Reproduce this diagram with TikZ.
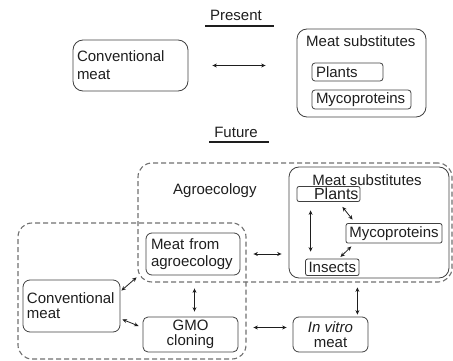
\documentclass[tikz,border=0pt]{standalone}
\usepackage{fontspec}
\setmainfont{Liberation Sans}
\usetikzlibrary{arrows.meta,calc}
\definecolor{txt}{HTML}{1E1E1E}
\definecolor{edge}{HTML}{404040}
\definecolor{dashc}{HTML}{707070}
\begin{document}
\begin{tikzpicture}[x=1pt,y=-1pt,
  font=\fontsize{15}{17}\selectfont, text=txt,
  box/.style={draw=edge, line width=0.8pt, rounded corners=3pt, inner sep=0pt},
  bigbox/.style={box, rounded corners=10pt},
  dbox/.style={draw=dashc, line width=1.1pt, dash pattern=on 5pt off 3pt, rounded corners=14pt, inner sep=0pt},
  link/.style={draw=txt, line width=0.8pt, {Stealth[length=4.5pt,width=4pt]}-{Stealth[length=4.5pt,width=4pt]}},
  head/.style={inner sep=0pt, anchor=base},
  lbl/.style={inner sep=0pt, anchor=base west}]
\useasboundingbox (0,0) rectangle (453,361);

% ---------- Present ----------
\node[head] (present) at (236,20.7) {Present};
\draw[line width=1.5pt, txt] ($(present.base)+(-31,5.5)$) -- ($(present.base)+(38,5.5)$);

\node[bigbox, minimum width=115pt, minimum height=51pt, text width=107pt, inner xsep=4pt,
      align=left, font=\fontsize{15}{18}\selectfont] (convP) at (130.5,65.5) {Conventional\\meat};

\node[bigbox, minimum width=129pt, minimum height=88pt] (subsP) at (361.5,73) {};
\node[lbl] (subsPt) at (306,46.7) {Meat substitutes};
\node[box, minimum width=71pt, minimum height=18pt, text width=63pt, inner xsep=4pt, align=left] (plantsP) at (347.5,72) {Plants};
\node[box, minimum width=99pt, minimum height=19pt, text width=91pt, inner xsep=4pt, align=left] (mycoP) at (361.5,99.5) {Mycoproteins};

\draw[link] ($(convP.east)+(24,0)$) -- ($(convP.east -| subsP.west)+(-31,0)$);

% ---------- Future ----------
\node[head] (future) at (236,137.3) {Future};
\draw[line width=1.5pt, txt] ($(future.base)+(-27,4.7)$) -- ($(future.base)+(33,4.7)$);

\node[dbox, minimum width=314pt, minimum height=119pt] (agroZone) at (295,222.5) {};
\node[dbox, minimum width=228pt, minimum height=136pt] (lowZone) at (132,291) {};
\node[lbl] (agroLabel) at (173,194) {Agroecology};

\node[box, rounded corners=6pt, minimum width=94pt, minimum height=42pt, text width=84pt, inner xsep=5pt,
      align=left, font=\fontsize{15}{17.7}\selectfont] (agro) at (193,254) {Meat from\\agroecology};
\node[box, rounded corners=7pt, minimum width=97pt, minimum height=52pt, text width=89pt, inner xsep=4pt,
      align=left, font=\fontsize{15}{15}\selectfont] (conv) at (71.5,306) {Conventional\\meat};
\node[box, rounded corners=5pt, minimum width=95pt, minimum height=35pt, align=center,
      font=\fontsize{15}{15}\selectfont] (gmo) at (190.5,334.5) {GMO\\cloning};

\node[bigbox, minimum width=160pt, minimum height=111pt] (subs) at (369,222.5) {};
\node[head] (subsT) at (367,185) {Meat substitutes};
\node[box, rounded corners=2pt, minimum width=63pt, minimum height=15pt, text width=60pt, inner xsep=1.5pt,
      align=right, font=\fontsize{16}{17}\selectfont] (plants) at (328.5,194) {Plants};
\node[box, rounded corners=2pt, minimum width=96pt, minimum height=19.5pt] (myco) at (394,233.3) {Mycoproteins};
\node[box, rounded corners=2pt, minimum width=53.5pt, minimum height=16.5pt] (insects) at (332.3,267.3) {Insects};
\node[box, rounded corners=6pt, minimum width=75pt, minimum height=35pt, align=center,
      font=\fontsize{15}{15}\selectfont] (invitro) at (330.5,334.5) {\itshape In vitro\\meat};

% connectors
\draw[link] ($(conv.north east)+(1,11)$) -- ($(agro.south west)+(-9,2)$);
\draw[link] ($(conv.south east)+(2,-13)$) -- ($(gmo.west)+(-4,-8.5)$);
\draw[link] ($(agro.south)+(1.5,13)$) -- ($(agro.south |- gmo.north)+(1.5,-5)$);
\draw[link] ($(agro.east)+(13,0)$) -- ($(agro.east -| subs.west)+(-7,0)$);
\draw[link] ($(invitro.north east |- subs.south)+(-11,9)$) -- ($(invitro.north east)+(-11,-2)$);
\draw[link] ($(gmo.east)+(15,-7)$) -- ($(gmo.east -| invitro.west)+(-6,-7)$);
\draw[link] ($(plants.south west)+(14,8.5)$) -- ($(plants.south west |- insects.north)+(14,-7)$);
\draw[link] ($(plants.south east)+(-18,5)$) -- ($(myco.north west)+(7,-3.5)$);
\draw[link] ($(insects.north east)+(-19,-1.7)$) -- ($(myco.south west)+(5.7,3)$);
\end{tikzpicture}
\end{document}
